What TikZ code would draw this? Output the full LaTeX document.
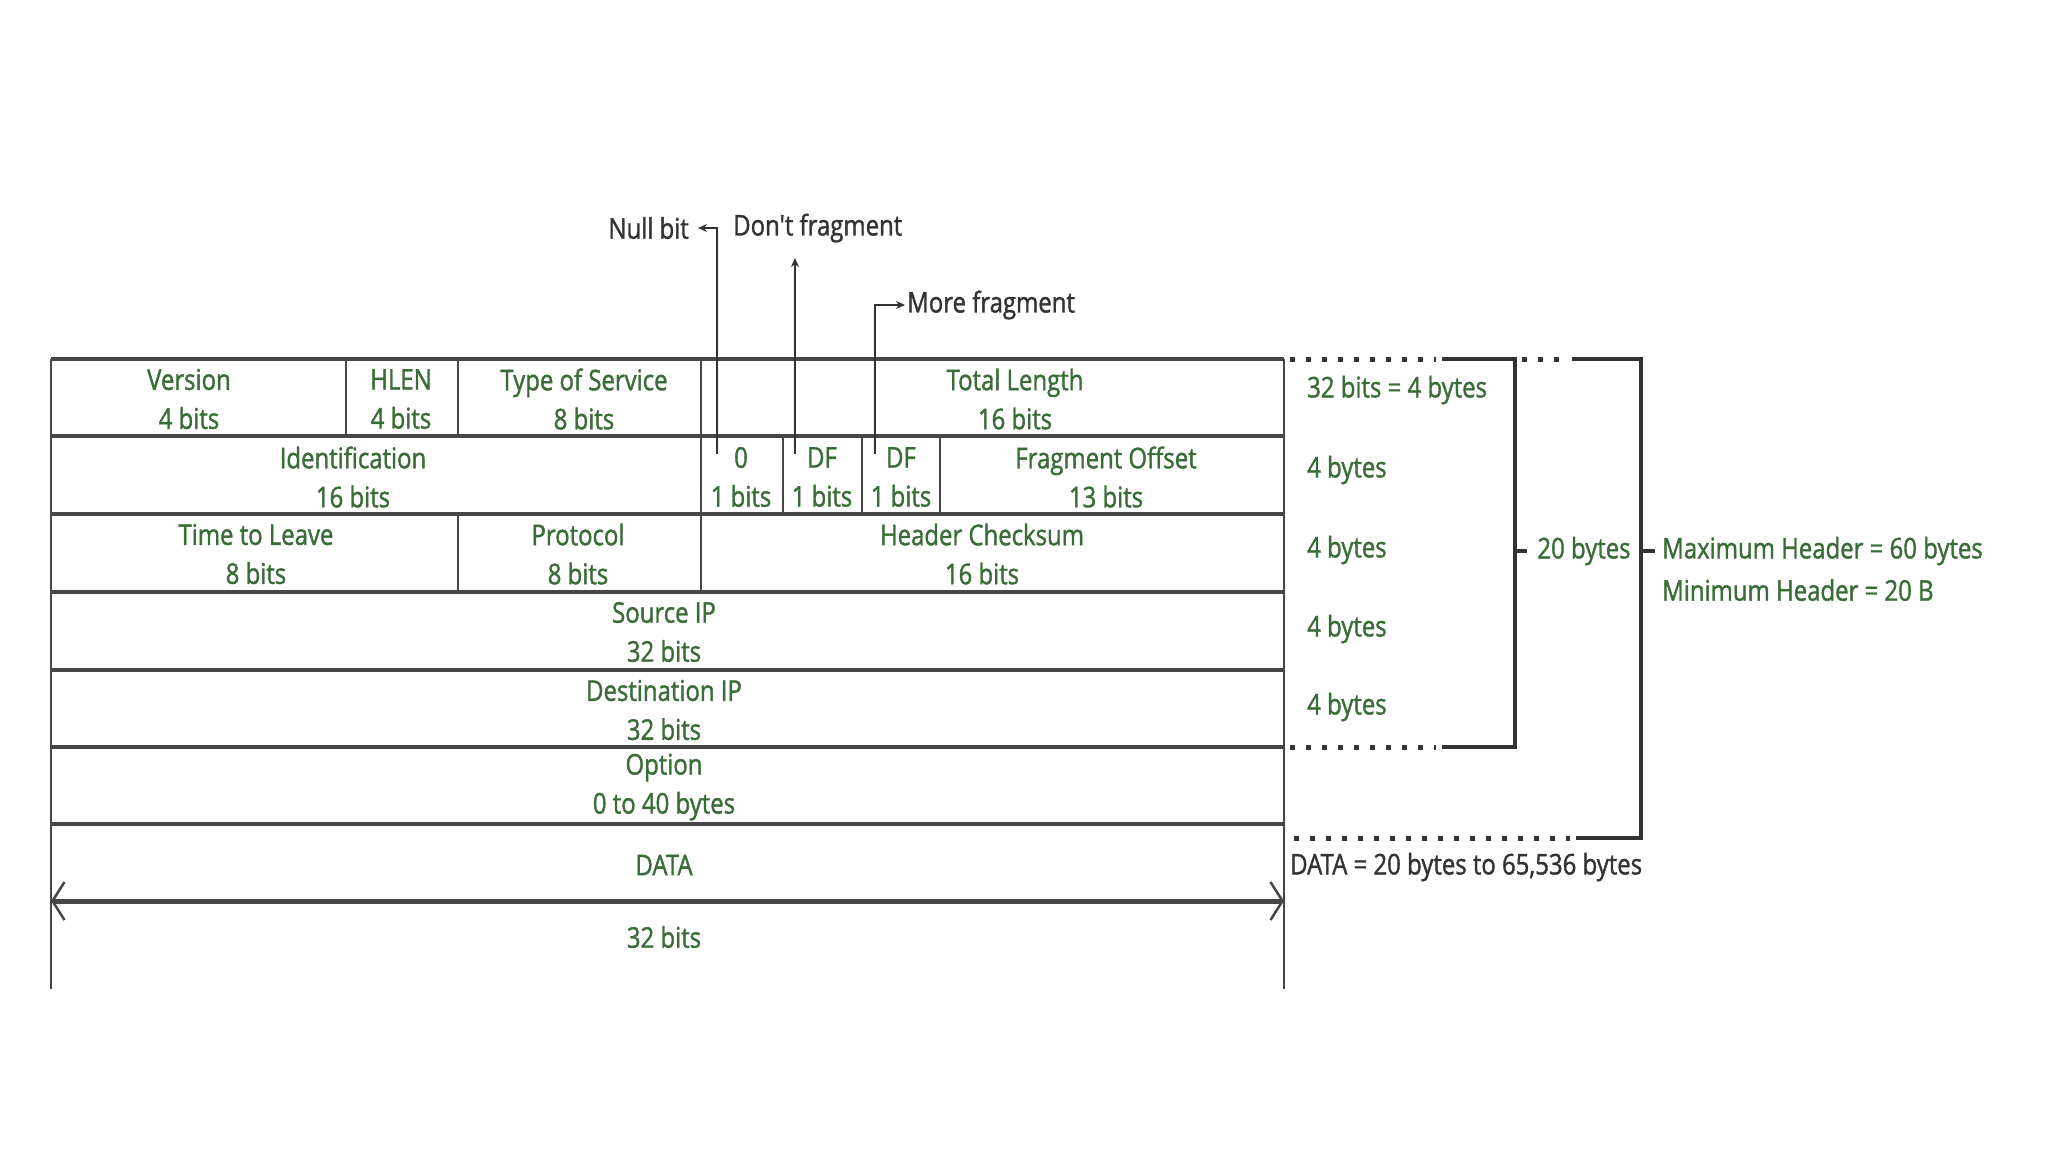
\documentclass[tikz,border=0pt]{standalone}
\usepackage{fontspec}
\newfontfamily\osans{Open Sans}[FakeStretch=0.84,FakeBold=1.3]
\usetikzlibrary{arrows.meta}
\definecolor{gtext}{RGB}{58,108,56}
\definecolor{dline}{RGB}{70,70,70}
\definecolor{atext}{RGB}{51,51,51}
\begin{document}
\begin{tikzpicture}[x=1pt,y=-1pt,
 lbl/.style={text=gtext, align=center, font=\osans\fontsize{28.5}{39}\selectfont, inner sep=0pt},
 ann/.style={text=atext, font=\osans\fontsize{28.5}{34}\selectfont, inner sep=0pt},
 side/.style={text=gtext, font=\osans\fontsize{28.5}{34}\selectfont, inner sep=0pt, anchor=west},
 rowline/.style={draw=dline, line width=3.5pt},
 colline/.style={draw=dline, line width=2pt},
 brk/.style={draw=atext, line width=4pt},
 dots/.style={draw=atext, line width=5pt, dash pattern=on 5pt off 11pt},
 pointer/.style={draw=atext, line width=2.5pt, -{Stealth[length=9pt,width=8pt]}},
 barbtip/.tip={Straight Barb[length=12pt,width=38pt,line width=2.5pt]}
]
\useasboundingbox (0,0) rectangle (2048,1152);
\fill[white] (0,0) rectangle (2048,1152);

% outer verticals
\draw[colline] (51,359) -- (51,989);
\draw[colline] (1284,359) -- (1284,989);
% row lines
\foreach \yy in {359,436,514,592,670,747,824}
  \draw[rowline] (51,\yy) -- (1284,\yy);
% column dividers
\draw[colline] (346,359) -- (346,436);
\draw[colline] (458,359) -- (458,436);
\draw[colline] (701,359) -- (701,592);
\draw[colline] (783,436) -- (783,514);
\draw[colline] (862,436) -- (862,514);
\draw[colline] (940,436) -- (940,514);
\draw[colline] (458,514) -- (458,592);

% cell texts
\node[lbl] (ver) at (189,399) {Version\\4 bits};
\node[lbl] (hlen) at (401,399) {HLEN\\4 bits};
\node[lbl] (tos) at (584,399) {Type of Service\\8 bits};
\node[lbl] (tlen) at (1015,399) {Total Length\\16 bits};
\node[lbl] (ident) at (353,477) {Identification\\16 bits};
\node[lbl] (nullc) at (741,477) {0\\1 bits};
\node[lbl] (dfc) at (822,477) {DF\\1 bits};
\node[lbl] (mfc) at (901,477) {DF\\1 bits};
\node[lbl] (frag) at (1106,477) {Fragment Offset\\13 bits};
\node[lbl] (ttl) at (256,554) {Time to Leave\\8 bits};
\node[lbl] (proto) at (578,554) {Protocol\\8 bits};
\node[lbl] (chk) at (982,554) {Header Checksum\\16 bits};
\node[lbl] (src) at (664,632) {Source IP\\32 bits};
\node[lbl] (dst) at (664,710) {Destination IP\\32 bits};
\node[lbl] (opt) at (664,787) {Option\\0 to 40 bytes};
\node[lbl] (data) at (664,865) {DATA};
\node[lbl] (width) at (664,937) {32 bits};

% width arrow
\coordinate (wl) at (51,901);
\coordinate (wr) at (1284,901);
\draw[draw=dline, line width=5pt, {barbtip}-{barbtip}] (wl) -- (wr);

% pointer annotations
\node[ann, anchor=east] (nullbit) at (689,228) {Null bit};
\node[ann, anchor=west] (dontfrag) at (733,228) {Don't fragment};
\node[ann, anchor=west] (morefrag) at (907,305) {More fragment};
\coordinate (p0) at (717,454);
\coordinate (p1) at (795,454);
\coordinate (p2) at (875,454);
\coordinate (p1top) at (795,258);
\draw[pointer] (p0) |- ([xshift=9pt]nullbit.east);
\draw[pointer] (p1) -- (p1top);
\draw[pointer] (p2) |- ([xshift=-2pt]morefrag.west);

% right side sizes
\node[side] (r1) at (1307,390) {32 bits = 4 bytes};
\node[side] (r2) at (1307,470) {4 bytes};
\node[side] (r3) at (1307,550) {4 bytes};
\node[side] (r4) at (1307,629) {4 bytes};
\node[side] (r5) at (1307,707) {4 bytes};

% brackets
\draw[dots] (1290,359) -- (1436,359);
\draw[brk] (1442,359) -- (1515,359) -- (1515,747) -- (1442,747);
\draw[dots] (1290,747) -- (1436,747);
\draw[dots] (1522,359) -- (1566,359);
\draw[brk] (1572,359) -- (1641,359) -- (1641,838) -- (1576,838);
\draw[dots] (1294,838) -- (1570,838);
\draw[brk] (1515,551) -- (1527,551);
\draw[brk] (1641,551) -- (1655,551);

\node[text=gtext, font=\osans\fontsize{28.5}{34}\selectfont, inner sep=0pt] (twenty) at (1584,551) {20 bytes};
\node[side] (maxh) at (1662,551) {Maximum Header = 60 bytes};
\node[side] (minh) at (1662,590) {Minimum Header = 20 B};
\node[ann, anchor=west] (datasz) at (1290,867) {DATA = 20 bytes to 65,536 bytes};
\end{tikzpicture}
\end{document}
